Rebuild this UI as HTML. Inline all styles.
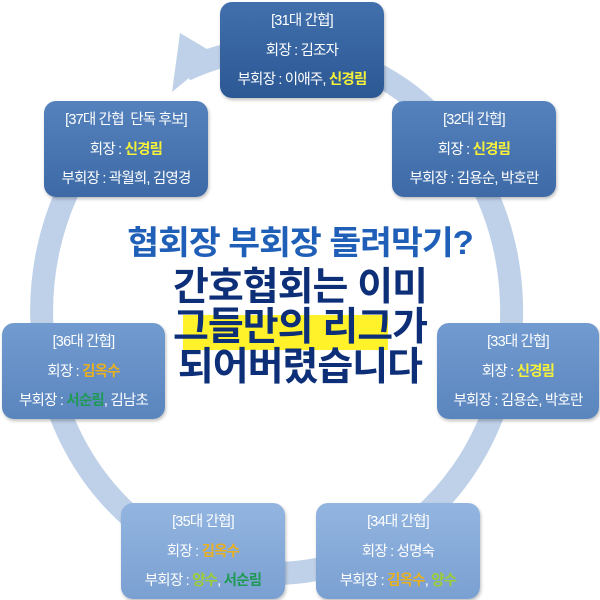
<!DOCTYPE html>
<html><head><meta charset="utf-8"><style>
body{margin:0;width:600px;height:600px;background:#fff;position:relative;overflow:hidden;font-family:"Liberation Sans","Noto Sans CJK KR",sans-serif}
.b{position:absolute;width:164px;height:96px;border-radius:12px;color:#fff;text-align:center;font-size:14.5px;box-shadow:1px 2px 3px rgba(0,0,0,.25);letter-spacing:-0.8px}
.b div{position:absolute;left:0;right:0}
.l1{top:7px}.l2{top:37px}.l3{top:66px}
.y{color:#f5f03a;font-weight:bold}.o{color:#e8b020;font-weight:bold}.g{color:#1f9a55;font-weight:bold}.lg{color:#9ccc3a;font-weight:bold}
.t{position:absolute;left:0;width:600px;text-align:center;font-weight:bold;letter-spacing:-1px}
</style></head><body>
<svg width="600" height="600" style="position:absolute;left:0;top:0">
<path d="M 95 145 A 235 262 0 1 0 185 70" fill="none" stroke="#bfd1e9" stroke-width="23"/>
<polygon points="180,33 217,55 172,92" fill="#bfd1e9"/>
</svg>
<div class="b" style="left:220px;top:2px;background:linear-gradient(#4170ad,#2c5894)"><div class="l1">[31대 간협]</div><div class="l2">회장 : 김조자</div><div class="l3">부회장 : 이애주, <span class="y">신경림</span></div></div>
<div class="b" style="left:392px;top:101px;background:linear-gradient(#5582bd,#3d6aa6)"><div class="l1">[32대 간협]</div><div class="l2">회장 : <span class="y">신경림</span></div><div class="l3">부회장 : 김용순, 박호란</div></div>
<div class="b" style="left:44px;top:101px;background:linear-gradient(#5582bd,#3d6aa6)"><div class="l1">[37대 간협 &nbsp;단독 후보]</div><div class="l2">회장 : <span class="y">신경림</span></div><div class="l3">부회장 : 곽월희, 김영경</div></div>
<div class="b" style="left:437px;top:323px;width:162px;background:linear-gradient(#729bd0,#5a85bd)"><div class="l1">[33대 간협]</div><div class="l2">회장 : <span class="y">신경림</span></div><div class="l3">부회장 : 김용순, 박호란</div></div>
<div class="b" style="left:2px;top:323px;width:163px;background:linear-gradient(#729bd0,#5a85bd)"><div class="l1">[36대 간협]</div><div class="l2">회장 : <span class="o">김옥수</span></div><div class="l3">부회장 : <span class="g">서순림</span>, 김남초</div></div>
<div class="b" style="left:121px;top:503px;background:linear-gradient(#93b5e0,#7aa0d2)"><div class="l1">[35대 간협]</div><div class="l2">회장 : <span class="o">김옥수</span></div><div class="l3">부회장 : <span class="lg">양수</span>, <span class="g">서순림</span></div></div>
<div class="b" style="left:316px;top:503px;background:linear-gradient(#93b5e0,#7aa0d2)"><div class="l1">[34대 간협]</div><div class="l2">회장 : 성명숙</div><div class="l3">부회장 : <span class="o">김옥수</span>, <span class="lg">양수</span></div></div>
<div class="t" style="top:216px;font-size:33px;color:#1f5fb8;transform:scaleX(1.05)">협회장 부회장 돌려막기?</div>
<div style="position:absolute;left:183px;top:315px;width:205px;height:35px;background:#fff22a"></div>
<div class="t" style="top:268px;font-size:39px;color:#0d2f78;line-height:40px">간호협회는 이미<br>그들만의 리그가<br>되어버렸습니다</div>
</body></html>
